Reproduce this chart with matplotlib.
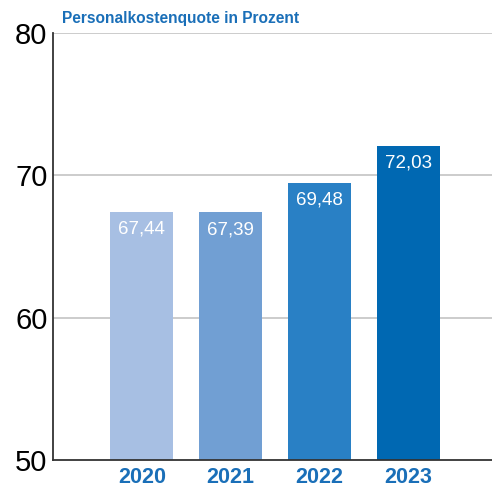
import matplotlib
matplotlib.use('Agg')

import matplotlib.pyplot as plt

plt.rcParams['font.family'] = ['Liberation Sans', 'DejaVu Sans']

YEARS = ['2020', '2021', '2022', '2023']
QUOTE = [67.44, 67.39, 69.48, 72.03]
COLORS = ['#a7bfe3', '#719fd3', '#2980c5', '#0068b2']
Y_TICKS = [50, 60, 70, 80]
TITLE = 'Personalkostenquote in Prozent'
BLUE = '#1a6fb8'

fig = plt.figure(figsize=(4.92, 4.88), dpi=100)
ax = fig.add_axes([53 / 492, 1 - 460 / 488, 1 - 53 / 492, (460 - 33) / 488])

x = range(len(YEARS))
ax.bar(x, QUOTE, width=0.71, color=COLORS, zorder=2)
for xi, v in zip(x, QUOTE):
    ax.text(xi, v - 0.6, ('%.2f' % v).replace('.', ','), ha='center', va='top',
            color='white', fontsize=13.5, zorder=3)

ax.set_xlim(-1, 3.94)
ax.set_ylim(50, 80)
ax.set_yticks(Y_TICKS)
ax.set_yticklabels([str(t) for t in Y_TICKS], fontsize=21)
ax.set_xticks(list(x))
ax.set_xticklabels(YEARS, fontsize=15.5, fontweight='bold', color=BLUE)
ax.tick_params(axis='both', length=0, pad=5)
ax.tick_params(axis='y', pad=4)

for t in Y_TICKS[1:]:
    ax.axhline(t, color='#c4c4c4', lw=1.2, zorder=1)

ax.spines['top'].set_visible(False)
ax.spines['right'].set_visible(False)
ax.spines['left'].set_color('#333333')
ax.spines['bottom'].set_color('#333333')
ax.spines['left'].set_linewidth(1.3)
ax.spines['bottom'].set_linewidth(1.3)

fig.text(62 / 492, 1 - 18 / 488, TITLE, color=BLUE, fontsize=11.2,
         fontweight='bold', va='center', ha='left')

fig.savefig('out.png', dpi=100)
